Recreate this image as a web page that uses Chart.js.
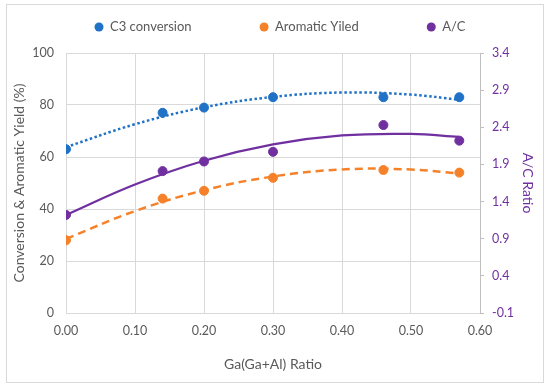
<!DOCTYPE html>
<html><head><meta charset="utf-8">
<script src="https://cdn.jsdelivr.net/npm/chart.js@4.4.1/dist/chart.umd.min.js"></script>
<style>
html,body{margin:0;padding:0;background:#fff;}
#wrap{position:relative;width:550px;height:387px;}
#frame{position:absolute;left:6px;top:4px;width:536px;height:377px;border:1px solid #d9d9d9;}
canvas{position:absolute;left:0;top:0;}
</style></head><body>
<div id="wrap"><div id="frame"></div><canvas id="c" width="550" height="387"></canvas></div>
<script>
// measured data
const gaRatio = [0, 0.14, 0.20, 0.30, 0.46, 0.57];
const c3Conversion = [63, 77, 79, 83, 83, 83];
const aromaticYield = [28, 44, 47, 52, 55, 54];
const acRatio = [1.22, 1.81, 1.94, 2.07, 2.43, 2.22];
// trendline values
const trendX = [0, 0.1, 0.2, 0.3, 0.4, 0.5, 0.57];
const c3Trend = [63.8, 72.6, 79.1, 83.1, 84.8, 84.0, 82.0];
const aromaticTrend = [28.5, 39.2, 47.2, 52.5, 55.2, 55.2, 53.6];
const acTrend = [1.22, 1.63, 1.95, 2.17, 2.29, 2.31, 2.27];
const seriesNames = ['C3 conversion', 'Aromatic Yiled', 'A/C'];
const xTitle = 'Ga(Ga+Al) Ratio';
const yTitle = 'Conversion & Aromatic Yield (%)';
const y1Title = 'A/C Ratio';

const BLUE = '#1F72C6', ORANGE = '#F5822A', PURPLE = '#7030A0', GRAY = '#595959', GRID = '#d9d9d9';
const FONT = 'Lato';

const pts = (xs, ys) => xs.map((x, i) => ({x: x, y: ys[i]}));

const legendPlugin = {
  id: 'customLegend',
  afterDraw(chart) {
    const ctx = chart.ctx;
    const items = chart.data.datasets.filter(d => d.inLegend);
    ctx.save();
    ctx.font = '13px ' + FONT;
    const r = 4.5, textOff = 11, gap = 68, cy = 27, center = 280;
    const widths = items.map(d => r + textOff + ctx.measureText(d.label).width);
    const total = widths.reduce((a, b) => a + b, 0) + gap * (items.length - 1);
    let x = center - total / 2;
    items.forEach((d, i) => {
      const cx = x + r;
      ctx.beginPath();
      ctx.arc(cx, cy, r, 0, Math.PI * 2);
      ctx.fillStyle = d.backgroundColor;
      ctx.fill();
      ctx.fillStyle = GRAY;
      ctx.textBaseline = 'middle';
      ctx.textAlign = 'left';
      ctx.fillText(d.label, cx + textOff, cy);
      x += widths[i] + gap;
    });
    ctx.restore();
  }
};

new Chart(document.getElementById('c'), {
  type: 'scatter',
  data: {
    datasets: [
      {label: seriesNames[0], data: pts(gaRatio, c3Conversion), backgroundColor: BLUE, borderColor: BLUE, pointRadius: 4.5, yAxisID: 'y', inLegend: true},
      {label: seriesNames[1], data: pts(gaRatio, aromaticYield), backgroundColor: ORANGE, borderColor: ORANGE, pointRadius: 4.5, yAxisID: 'y', inLegend: true},
      {label: seriesNames[2], data: pts(gaRatio, acRatio), backgroundColor: PURPLE, borderColor: PURPLE, pointRadius: 4.5, yAxisID: 'y1', inLegend: true},
      {label: 'C3 trend', data: pts(trendX, c3Trend), showLine: true, tension: 0.4, pointRadius: 0, borderColor: BLUE, borderWidth: 2.5, borderDash: [2.5, 2.5], yAxisID: 'y'},
      {label: 'Aromatic trend', data: pts(trendX, aromaticTrend), showLine: true, tension: 0.4, pointRadius: 0, borderColor: ORANGE, borderWidth: 2.5, borderDash: [8, 5], yAxisID: 'y'},
      {label: 'A/C trend', data: pts(trendX, acTrend), showLine: true, tension: 0.4, pointRadius: 0, borderColor: PURPLE, borderWidth: 2.25, yAxisID: 'y1'}
    ]
  },
  options: {
    responsive: false,
    animation: false,
    devicePixelRatio: 1,
    layout: {padding: {top: 53, left: 0, right: 0, bottom: 0}},
    plugins: {legend: {display: false}, tooltip: {enabled: false}},
    scales: {
      x: {
        type: 'linear', min: 0, max: 0.6,
        afterFit: s => { s.height = 74; },
        ticks: {stepSize: 0.1, color: GRAY, font: {family: FONT, size: 12.5}, padding: 10, callback: v => v.toFixed(2)},
        grid: {color: GRID, drawTicks: false},
        border: {color: GRID},
        title: {display: true, text: xTitle, color: GRAY, font: {family: FONT, size: 14}, padding: {top: 0, bottom: 14}}
      },
      y: {
        position: 'left', min: 0, max: 100,
        afterFit: s => { s.width = 66; },
        ticks: {stepSize: 20, color: GRAY, font: {family: FONT, size: 12.5}, padding: 12},
        grid: {color: GRID, drawTicks: false},
        border: {color: GRID},
        title: {display: true, text: yTitle, color: GRAY, font: {family: FONT, size: 14}, padding: {top: 11, bottom: 0}}
      },
      y1: {
        position: 'right', min: -0.1, max: 3.4,
        afterFit: s => { s.width = 70; },
        ticks: {stepSize: 0.5, color: PURPLE, font: {family: FONT, size: 12.5}, padding: 8, callback: v => v.toFixed(1)},
        grid: {drawOnChartArea: false, color: '#bfbfbf', tickLength: 4},
        border: {color: '#bfbfbf'},
        title: {display: true, text: y1Title, color: PURPLE, font: {family: FONT, size: 14}, padding: {top: 14, bottom: 0}}
      }
    }
  },
  plugins: [legendPlugin]
});
</script>
</body></html>
